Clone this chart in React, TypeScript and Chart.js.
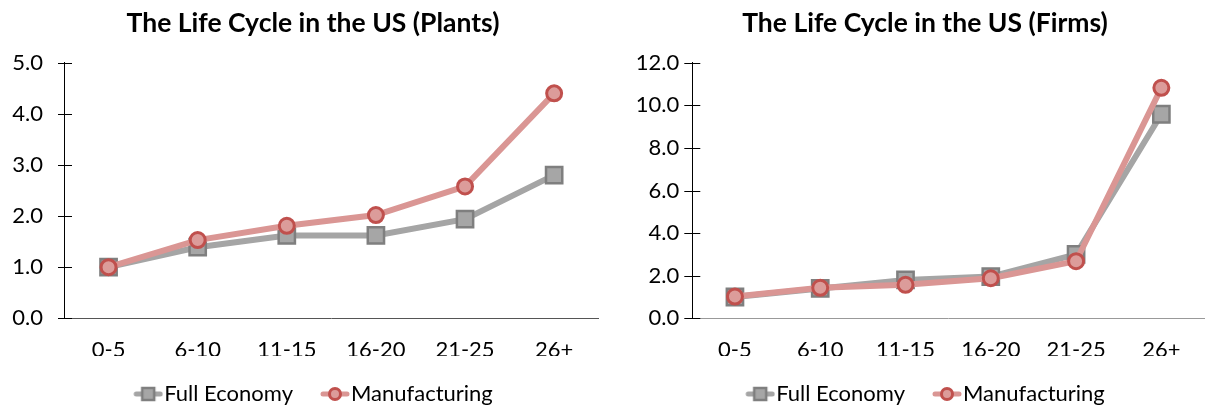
import React, { useEffect, useRef } from 'react';
import { Chart, registerables } from 'chart.js';

Chart.register(...registerables);

const categories = ['0-5', '6-10', '11-15', '16-20', '21-25', '26+'];

const plantsFullEconomy = [1.0, 1.39, 1.62, 1.62, 1.94, 2.8];
const plantsManufacturing = [1.0, 1.53, 1.81, 2.02, 2.58, 4.4];

const firmsFullEconomy = [1.0, 1.4, 1.8, 1.96, 3.0, 9.58];
const firmsManufacturing = [1.02, 1.43, 1.57, 1.88, 2.68, 10.82];

const seriesNames = ['Full Economy', 'Manufacturing'];

const FONT = 'Lato, "Open Sans", "DejaVu Sans", sans-serif';
const TICK_SIZE = 22;

const GREY_LINE = '#A5A5A5';
const GREY_FILL = '#A6A6A6';
const GREY_BORDER = '#7F7F7F';
const PINK_LINE = '#DA9694';
const PINK_FILL = '#DC9C9A';
const PINK_BORDER = '#C0504D';

function legendIcon(kind: 'rect' | 'circle'): HTMLCanvasElement {
  const W = 40;
  const H = 22;
  const c = document.createElement('canvas');
  c.width = W;
  c.height = H;
  const ctx = c.getContext('2d')!;
  const x0 = W - 30;
  const cy = H / 2;
  ctx.lineCap = 'round';
  ctx.strokeStyle = kind === 'rect' ? GREY_LINE : PINK_LINE;
  ctx.lineWidth = 5;
  ctx.beginPath();
  ctx.moveTo(x0 + 3, cy);
  ctx.lineTo(W - 3, cy);
  ctx.stroke();
  const cx = x0 + 15;
  if (kind === 'rect') {
    ctx.fillStyle = GREY_FILL;
    ctx.strokeStyle = GREY_BORDER;
    ctx.lineWidth = 2.5;
    ctx.fillRect(cx - 6, cy - 6, 12, 12);
    ctx.strokeRect(cx - 6, cy - 6, 12, 12);
  } else {
    ctx.fillStyle = PINK_FILL;
    ctx.strokeStyle = PINK_BORDER;
    ctx.lineWidth = 3;
    ctx.beginPath();
    ctx.arc(cx, cy, 5.5, 0, Math.PI * 2);
    ctx.fill();
    ctx.stroke();
  }
  return c;
}

type Props = {
  title: string;
  full: number[];
  mfg: number[];
  yMax: number;
  yStep: number;
  left: number;
  width: number;
  padL: number;
  padR: number;
  yWidth: number;
  rightWidth: number;
  tickLeft: number;
  tickRight: number;
  tickPad: number;
  xAxisColor: string;
};

function LifeCycleChart(p: Props) {
  const ref = useRef<HTMLCanvasElement | null>(null);

  useEffect(() => {
    if (!ref.current) return;
    const crossTicks = {
      id: 'crossTicks',
      afterDraw(chart: any) {
        const s = chart.scales.y;
        const ctx = chart.ctx;
        const ax = chart.chartArea.left;
        ctx.save();
        ctx.strokeStyle = '#000';
        ctx.lineWidth = 1;
        s.ticks.forEach((t: any) => {
          const y = Math.round(s.getPixelForValue(t.value)) + 0.5;
          ctx.beginPath();
          ctx.moveTo(ax - p.tickLeft, y);
          ctx.lineTo(ax + p.tickRight, y);
          ctx.stroke();
        });
        ctx.restore();
      },
    };

    const icons = [legendIcon('rect'), legendIcon('circle')];

    const chart = new Chart(ref.current, {
      type: 'line',
      data: {
        labels: categories,
        datasets: [
          {
            label: seriesNames[0],
            data: p.full,
            order: 2,
            borderColor: GREY_LINE,
            borderWidth: 6,
            tension: 0,
            pointStyle: 'rect',
            pointRadius: 11.5,
            pointBackgroundColor: GREY_FILL,
            pointBorderColor: GREY_BORDER,
            pointBorderWidth: 2.5,
            yAxisID: 'y',
          },
          {
            label: seriesNames[1],
            data: p.mfg,
            order: 1,
            borderColor: PINK_LINE,
            borderWidth: 6,
            tension: 0,
            pointStyle: 'circle',
            pointRadius: 7.5,
            pointBackgroundColor: PINK_FILL,
            pointBorderColor: PINK_BORDER,
            pointBorderWidth: 3,
            yAxisID: 'y',
          },
        ],
      },
      options: {
        responsive: false,
        animation: false,
        layout: { padding: { left: p.padL, right: p.padR, top: 0, bottom: 0 } },
        plugins: {
          title: {
            display: true,
            text: p.title,
            color: '#000',
            font: { family: FONT, size: 26.5, weight: 'bold', lineHeight: 1.2 },
            padding: { top: 7.4, bottom: 23.5 },
          },
          legend: {
            position: 'bottom',
            maxHeight: 50,
            labels: {
              usePointStyle: true,
              pointStyleWidth: 20,
              padding: 27,
              color: '#000',
              font: { family: FONT, size: TICK_SIZE },
              generateLabels: () =>
                seriesNames.map((name, i) => ({
                  text: name,
                  pointStyle: icons[i],
                  fillStyle: 'transparent',
                  strokeStyle: 'transparent',
                  lineWidth: 0,
                  hidden: false,
                  datasetIndex: i,
                  fontColor: '#000',
                })),
            },
          },
          tooltip: { enabled: false },
        },
        scales: {
          x: {
            type: 'category',
            offset: true,
            grid: {
              display: true,
              drawOnChartArea: false,
              drawTicks: true,
              color: 'transparent',
              tickLength: 25.7,
            },
            border: { display: true, color: p.xAxisColor, width: 1 },
            ticks: {
              color: '#000',
              font: { family: FONT, size: TICK_SIZE, lineHeight: 12 / TICK_SIZE },
              padding: 0,
              maxRotation: 0,
              autoSkip: false,
            },
          },
          y: {
            position: 'left',
            min: 0,
            max: p.yMax,
            grid: {
              display: true,
              drawOnChartArea: false,
              color: 'transparent',
              tickLength: p.tickLeft,
            },
            border: { display: true, color: '#000', width: 1 },
            ticks: {
              stepSize: p.yStep,
              color: '#000',
              font: { family: FONT, size: TICK_SIZE },
              padding: p.tickPad,
              callback: (v: any) => Number(v).toFixed(1),
            },
            afterFit: (s: any) => {
              s.width = p.yWidth;
            },
          },
          yR: {
            type: 'linear',
            position: 'right',
            display: true,
            min: 0,
            max: p.yMax,
            grid: { display: false, drawTicks: false },
            border: { display: false },
            ticks: { display: false },
            afterFit: (s: any) => {
              s.width = p.rightWidth;
            },
          },
        },
      },
      plugins: [crossTicks],
    } as any);
    return () => chart.destroy();
  }, []);

  return (
    <canvas
      ref={ref}
      width={p.width}
      height={406}
      style={{ position: 'absolute', left: p.left, top: 0, width: p.width, height: 406 }}
    />
  );
}

export default function App() {
  return (
    <div
      style={{
        position: 'absolute',
        left: 0,
        top: 0,
        width: 1208,
        height: 406,
        overflow: 'hidden',
        background: '#fff',
      }}
    >
      <LifeCycleChart
        title="The Life Cycle in the US (Plants)"
        full={plantsFullEconomy}
        mfg={plantsManufacturing}
        yMax={5}
        yStep={1}
        left={0}
        width={620}
        padL={8}
        padR={2}
        yWidth={56}
        rightWidth={19.3}
        tickLeft={6}
        tickRight={8}
        tickPad={15}
        xAxisColor="#555555"
      />
      <LifeCycleChart
        title="The Life Cycle in the US (Firms)"
        full={firmsFullEconomy}
        mfg={firmsManufacturing}
        yMax={12}
        yStep={2}
        left={604}
        width={614}
        padL={28}
        padR={0}
        yWidth={60.3}
        rightWidth={3}
        tickLeft={8}
        tickRight={8}
        tickPad={5}
        xAxisColor="#999999"
      />
    </div>
  );
}
